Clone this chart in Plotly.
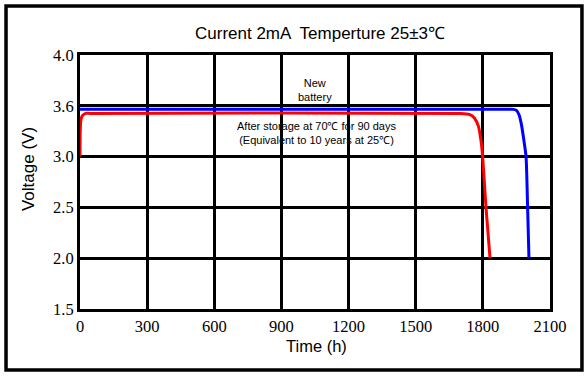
import plotly.graph_objects as go

# Data
new_t = [0, 1900, 1935, 1950, 1962, 1972, 1984, 1993, 2000, 2006]
new_v = [3.465, 3.465, 3.465, 3.455, 3.41, 3.32, 3.15, 3.0, 2.5, 2.0]

aged_t = [0, 1, 4, 10, 25, 45, 1700, 1740, 1762, 1780, 1792, 1799, 1814, 1832]
aged_v = [3.0, 3.25, 3.36, 3.40, 3.425, 3.425, 3.425, 3.415, 3.38, 3.30, 3.15, 3.0, 2.5, 2.0]

x_ticks = [0, 300, 600, 900, 1200, 1500, 1800, 2100]
y_tickvals = [1.5, 2.0, 2.5, 3.0, 3.5, 4.0]
y_ticktext = ["1.5", "2.0", "2.5", "3.0", "3.6", "4.0"]

title_text = "Current 2mA  Temperture 25±3℃"
new_label = "New<br>battery"
aged_label = "After storage at 70℃ for 90 days<br>(Equivalent to 10 years at 25℃)"

fig = go.Figure()
fig.add_trace(go.Scatter(x=new_t, y=new_v, mode="lines",
                         line=dict(color="#0000ff", width=3, shape="spline", smoothing=0.6),
                         showlegend=False))
fig.add_trace(go.Scatter(x=aged_t, y=aged_v, mode="lines",
                         line=dict(color="#ff0000", width=3, shape="spline", smoothing=0.6),
                         showlegend=False))

tickfont = dict(family="Liberation Serif", size=16.5, color="black")
fig.update_xaxes(range=[0, 2100], tickvals=x_ticks, showgrid=True, gridcolor="black",
                 gridwidth=3, showline=True, linecolor="black", linewidth=3, mirror=True,
                 zeroline=False, ticks="", tickfont=tickfont)
fig.update_yaxes(range=[1.5, 4.0], tickvals=y_tickvals, ticktext=y_ticktext, showgrid=True,
                 gridcolor="black", gridwidth=3, showline=True, linecolor="black", linewidth=3,
                 mirror=True, zeroline=False, ticks="", tickfont=tickfont)

sans = "Liberation Sans, Arial, sans-serif"
annots = [
    dict(text=title_text, x=0.5117, y=1.0827, xref="paper", yref="paper", showarrow=False,
         font=dict(family=sans, size=17, color="black"), xanchor="center", yanchor="middle"),
    dict(text="Time (h)", x=0.503, y=-0.1457, xref="paper", yref="paper", showarrow=False,
         font=dict(family=sans, size=16.5, color="black"), xanchor="center", yanchor="middle"),
    dict(text="Voltage (V)", x=-0.1106, y=0.551, xref="paper", yref="paper", showarrow=False,
         textangle=-90, font=dict(family=sans, size=17, color="black"),
         xanchor="center", yanchor="middle"),
    dict(text=new_label, x=1050, y=3.66, xref="x", yref="y", showarrow=False,
         font=dict(family=sans, size=11, color="black"), xanchor="center", yanchor="middle"),
    dict(text=aged_label, x=1058, y=3.232, xref="x", yref="y", showarrow=False,
         font=dict(family=sans, size=11, color="black"), xanchor="center", yanchor="middle"),
]

fig.update_layout(
    width=588, height=376,
    margin=dict(l=80, r=38, t=55, b=67),
    paper_bgcolor="white", plot_bgcolor="white",
    annotations=annots,
    shapes=[dict(type="rect", xref="paper", yref="paper",
                 x0=-0.1574, x1=1.068, y0=-0.240, y1=1.193,
                 line=dict(color="black", width=3.5), fillcolor="rgba(0,0,0,0)", layer="above")],
)

fig.write_html("out.html", config={"displayModeBar": False},
               post_script="document.body.style.margin='0';document.body.style.overflow='hidden';")
